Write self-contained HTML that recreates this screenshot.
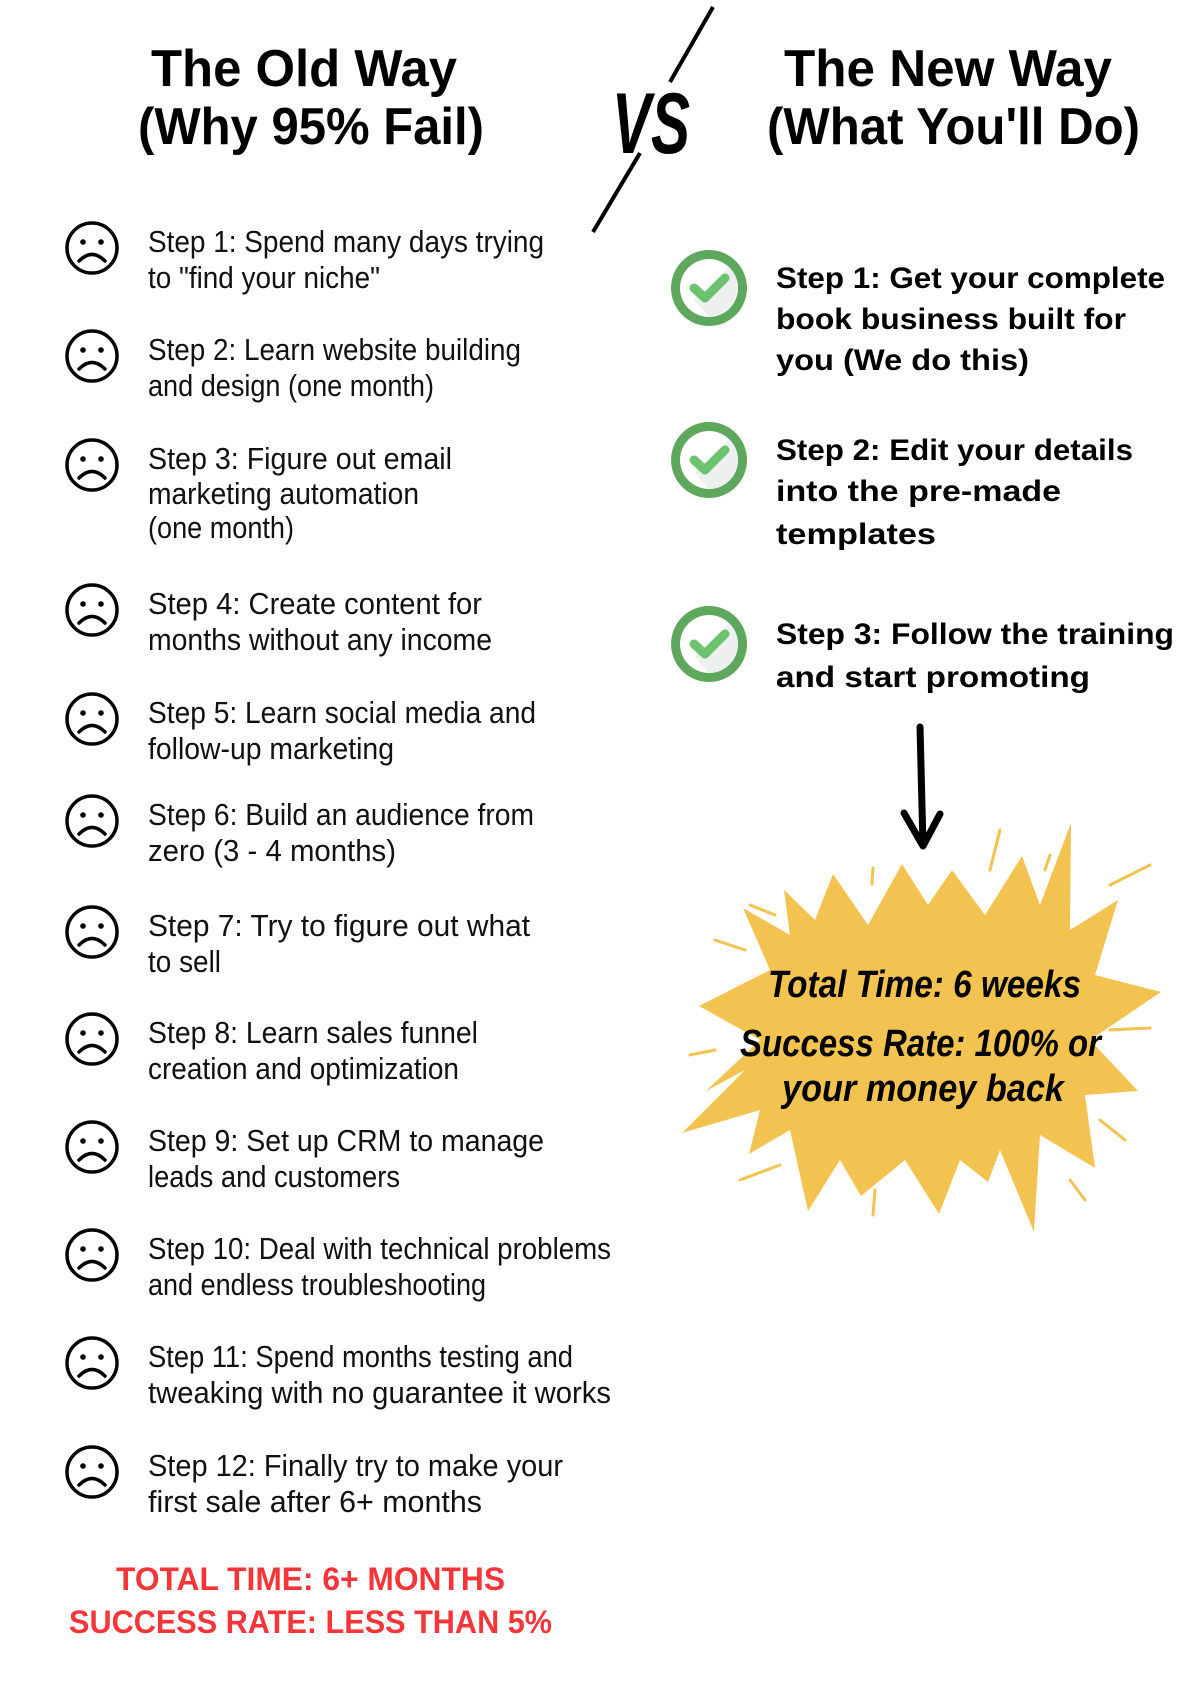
<!DOCTYPE html>
<html><head><meta charset="utf-8"><style>
html,body{margin:0;padding:0;background:#fff;}
svg{display:block;}
.t{font-family:"Liberation Sans",sans-serif;font-weight:bold;fill:#000;}
.h{font-family:"Liberation Sans",sans-serif;font-weight:normal;fill:#111;font-size:31px;}
.r{font-family:"Liberation Sans",sans-serif;font-weight:bold;fill:#000;font-size:30px;}
.s{font-family:"Liberation Sans",sans-serif;font-weight:bold;font-style:italic;fill:#000;font-size:38px;}
.red{font-family:"Liberation Sans",sans-serif;font-weight:bold;fill:#f2363a;font-size:32px;}
</style></head><body>
<svg width="1200" height="1697" viewBox="0 0 1200 1697" xmlns="http://www.w3.org/2000/svg">
<defs>
<g id="sad"><circle r="25" fill="none" stroke="#000" stroke-width="3.5"/><circle cx="-9" cy="-6" r="2.8"/><circle cx="9" cy="-6" r="2.8"/><path d="M-13,13 Q0,0 13,13" fill="none" stroke="#000" stroke-width="3.5" stroke-linecap="round"/></g>
<g id="chk"><circle r="38" fill="#5da85c"/><circle r="29" fill="#fff"/><path d="M0,29 A29,29 0 0 0 20,-21 L-15,12 Z" fill="#eef0f0"/><path d="M-15,0 L-4,10 L16,-10" fill="none" stroke="#6cc26e" stroke-width="9" stroke-linecap="round" stroke-linejoin="round"/></g>
</defs>
<!-- titles -->
<text class="t" x="151" y="86" font-size="52" textLength="306" lengthAdjust="spacingAndGlyphs">The Old Way</text>
<text class="t" x="138" y="144" font-size="52" textLength="346" lengthAdjust="spacingAndGlyphs">(Why 95% Fail)</text>
<text class="t" x="784" y="86" font-size="52" textLength="328" lengthAdjust="spacingAndGlyphs">The New Way</text>
<text class="t" x="767" y="144" font-size="52" textLength="373" lengthAdjust="spacingAndGlyphs">(What You'll Do)</text>
<text class="t" x="612" y="153" font-size="86" font-style="italic" textLength="78" lengthAdjust="spacingAndGlyphs">VS</text>
<line x1="713" y1="7" x2="670" y2="82" stroke="#000" stroke-width="4"/>
<line x1="640" y1="153" x2="593" y2="232" stroke="#000" stroke-width="4"/>
<!-- left steps -->
<use href="#sad" x="92" y="248"/><use href="#sad" x="92" y="356"/><use href="#sad" x="92" y="465"/><use href="#sad" x="92" y="610"/><use href="#sad" x="92" y="719"/><use href="#sad" x="92" y="821"/><use href="#sad" x="92" y="932"/><use href="#sad" x="92" y="1039"/><use href="#sad" x="92" y="1147"/><use href="#sad" x="92" y="1255"/><use href="#sad" x="92" y="1363"/><use href="#sad" x="92" y="1472"/>
<g class="h">
<text x="148" y="252" textLength="396" lengthAdjust="spacingAndGlyphs">Step 1: Spend many days trying</text>
<text x="148" y="288" textLength="232" lengthAdjust="spacingAndGlyphs">to "find your niche"</text>
<text x="148" y="360" textLength="373" lengthAdjust="spacingAndGlyphs">Step 2: Learn website building</text>
<text x="148" y="396" textLength="286" lengthAdjust="spacingAndGlyphs">and design (one month)</text>
<text x="148" y="469" textLength="304" lengthAdjust="spacingAndGlyphs">Step 3: Figure out email</text>
<text x="148" y="504" textLength="271" lengthAdjust="spacingAndGlyphs">marketing automation</text>
<text x="148" y="538" textLength="146" lengthAdjust="spacingAndGlyphs">(one month)</text>
<text x="148" y="614" textLength="334" lengthAdjust="spacingAndGlyphs">Step 4: Create content for</text>
<text x="148" y="650" textLength="344" lengthAdjust="spacingAndGlyphs">months without any income</text>
<text x="148" y="723" textLength="388" lengthAdjust="spacingAndGlyphs">Step 5: Learn social media and</text>
<text x="148" y="759" textLength="246" lengthAdjust="spacingAndGlyphs">follow-up marketing</text>
<text x="148" y="825" textLength="386" lengthAdjust="spacingAndGlyphs">Step 6: Build an audience from</text>
<text x="148" y="861" textLength="248" lengthAdjust="spacingAndGlyphs">zero (3 - 4 months)</text>
<text x="148" y="936" textLength="382" lengthAdjust="spacingAndGlyphs">Step 7: Try to figure out what</text>
<text x="148" y="972" textLength="73" lengthAdjust="spacingAndGlyphs">to sell</text>
<text x="148" y="1043" textLength="330" lengthAdjust="spacingAndGlyphs">Step 8: Learn sales funnel</text>
<text x="148" y="1079" textLength="311" lengthAdjust="spacingAndGlyphs">creation and optimization</text>
<text x="148" y="1151" textLength="396" lengthAdjust="spacingAndGlyphs">Step 9: Set up CRM to manage</text>
<text x="148" y="1187" textLength="252" lengthAdjust="spacingAndGlyphs">leads and customers</text>
<text x="148" y="1259" textLength="463" lengthAdjust="spacingAndGlyphs">Step 10: Deal with technical problems</text>
<text x="148" y="1295" textLength="338" lengthAdjust="spacingAndGlyphs">and endless troubleshooting</text>
<text x="148" y="1367" textLength="425" lengthAdjust="spacingAndGlyphs">Step 11: Spend months testing and</text>
<text x="148" y="1403" textLength="463" lengthAdjust="spacingAndGlyphs">tweaking with no guarantee it works</text>
<text x="148" y="1476" textLength="415" lengthAdjust="spacingAndGlyphs">Step 12: Finally try to make your</text>
<text x="148" y="1512" textLength="334" lengthAdjust="spacingAndGlyphs">first sale after 6+ months</text>
</g>
<text class="red" x="116" y="1590" textLength="389" lengthAdjust="spacingAndGlyphs">TOTAL TIME: 6+ MONTHS</text>
<text class="red" x="69" y="1633" textLength="483" lengthAdjust="spacingAndGlyphs">SUCCESS RATE: LESS THAN 5%</text>
<!-- right steps -->
<use href="#chk" x="709" y="288"/><use href="#chk" x="709" y="460"/><use href="#chk" x="709" y="644"/>
<g class="r">
<text x="776" y="288" textLength="389" lengthAdjust="spacingAndGlyphs">Step 1: Get your complete</text>
<text x="776" y="329" textLength="350" lengthAdjust="spacingAndGlyphs">book business built for</text>
<text x="776" y="370" textLength="253" lengthAdjust="spacingAndGlyphs">you (We do this)</text>
<text x="776" y="460" textLength="357" lengthAdjust="spacingAndGlyphs">Step 2: Edit your details</text>
<text x="776" y="501" textLength="285" lengthAdjust="spacingAndGlyphs">into the pre-made</text>
<text x="776" y="544" textLength="160" lengthAdjust="spacingAndGlyphs">templates</text>
<text x="776" y="644" textLength="398" lengthAdjust="spacingAndGlyphs">Step 3: Follow the training</text>
<text x="776" y="687" textLength="314" lengthAdjust="spacingAndGlyphs">and start promoting</text>
</g>
<!-- arrow -->
<path d="M920,727 L923,846 M904,813 L923,846 L940,814" fill="none" stroke="#000" stroke-width="7" stroke-linecap="round" stroke-linejoin="round"/>
<!-- starburst -->
<polygon fill="#f2c350" points="833,874 868,925 902,864 928,905 952,870 985,915 1022,856 1040,905 1071,823 1070,930 1118,900 1095,975 1161,992 1090,1040 1138,1091 1085,1095 1095,1168 1040,1135 1034,1232 1000,1150 988,1182 960,1160 939,1214 905,1160 861,1196 840,1160 808,1211 790,1130 749,1154 760,1110 682,1133 745,1070 706,1091 760,1040 699,1006 770,970 743,908 790,935 784,890 815,920"/>
<ellipse cx="925" cy="1040" rx="150" ry="118" fill="#f2c350"/>
<g stroke="#f2c350" stroke-width="3" stroke-linecap="round">
<line x1="1000" y1="830" x2="990" y2="870"/><line x1="1050" y1="855" x2="1045" y2="870"/><line x1="1110" y1="885" x2="1150" y2="865"/><line x1="873" y1="868" x2="872" y2="884"/><line x1="750" y1="905" x2="775" y2="915"/><line x1="715" y1="940" x2="745" y2="950"/><line x1="690" y1="1055" x2="715" y2="1050"/><line x1="1110" y1="1030" x2="1150" y2="1028"/><line x1="1100" y1="1120" x2="1125" y2="1140"/><line x1="740" y1="1180" x2="780" y2="1165"/><line x1="873" y1="1215" x2="875" y2="1190"/><line x1="1070" y1="1180" x2="1085" y2="1200"/></g>
<g class="s">
<text x="768" y="997" textLength="313" lengthAdjust="spacingAndGlyphs">Total Time: 6 weeks</text>
<text x="740" y="1056" textLength="361" lengthAdjust="spacingAndGlyphs">Success Rate: 100% or</text>
<text x="782" y="1101" textLength="282" lengthAdjust="spacingAndGlyphs">your money back</text>
</g>
</svg>
</body></html>
